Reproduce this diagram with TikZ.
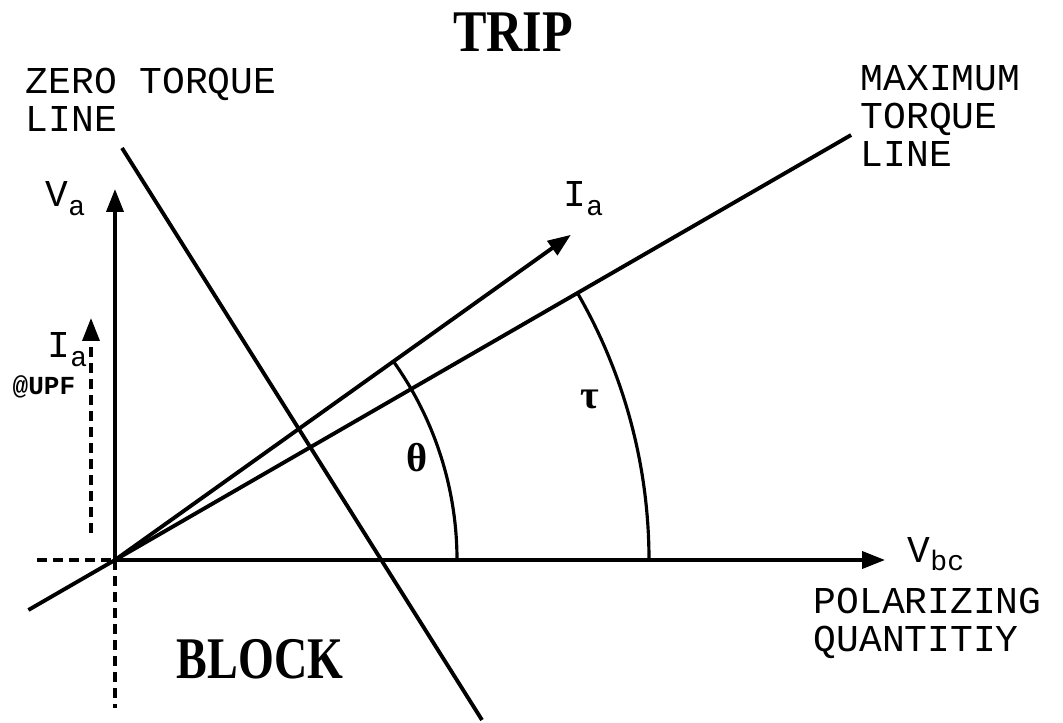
\documentclass[tikz,border=0pt]{standalone}
\usepackage{fontspec}
\setmainfont{Liberation Serif}
\setmonofont{Liberation Mono}
\usepackage{graphicx}
\usetikzlibrary{arrows.meta,positioning}
\newcommand{\psub}[1]{\raisebox{-0.4ex}{\fontsize{8}{8}\selectfont #1}}

\begin{document}
\begin{tikzpicture}[>={Triangle[length=2.3mm,width=1.7mm]}]
\tikzstyle{axis}=[line width=1.1pt]
\tikzstyle{arcln}=[line width=0.9pt]
\tikzstyle{dashln}=[line width=1pt, dash pattern=on 1mm off 0.6mm]
\tikzstyle{lbl}=[font=\ttfamily\fontsize{10.8}{10.8}\selectfont, inner sep=0pt, align=left]
\tikzstyle{small}=[font=\ttfamily\bfseries\fontsize{7.4}{7.4}\selectfont, inner sep=0pt]
\tikzstyle{big}=[font=\bfseries\fontsize{16.8}{16.8}\selectfont, inner sep=0pt]
\tikzstyle{greek}=[font=\bfseries\fontsize{11.5}{11.5}\selectfont, inner sep=0pt]

\useasboundingbox (-1.15,-1.62) rectangle (9.48,5.60);

% axes and phasor end points
\coordinate (O) at (0,0);
\coordinate (vtop) at (0,3.71);
\coordinate (vbot) at (0,-1.48);
\coordinate (hleft) at (-0.78,0);
\coordinate (hright) at (7.70,0);
\coordinate (upfbot) at (-0.24,0.27);
\coordinate (upftop) at (-0.24,2.42);
\coordinate (mtlow) at (210:1.0);
\coordinate (mthigh) at (30:8.5);
\coordinate (iatip) at (35.5:5.6);
\coordinate (ztop) at (0.07,4.12);
\coordinate (zbot) at (3.67,-1.60);

\draw[axis,->] (O) -- (vtop);
\draw[axis,->] (O) -- (hright);
\draw[dashln] (O) -- (vbot);
\draw[dashln] (hleft) -- (O);
\draw[dashln,->] (upfbot) -- (upftop);
\draw[axis] (mtlow) -- (mthigh);
\draw[axis,->] (O) -- (iatip);
\draw[axis] (ztop) -- (zbot);

% angles
\draw[arcln] (3.42,0) arc[start angle=0, end angle=35.5, radius=3.42];
\draw[arcln] (5.34,0) arc[start angle=0, end angle=30, radius=5.34];
\node[greek] (theta) at (3.02,1.02) {θ};
\node[greek] (tau) at (4.75,1.61) {τ};

% labels
\node[big] (trip) at (3.98,5.28) {\scalebox{0.85}[1]{TRIP}};
\node[big] (block) at (1.45,-0.99) {\scalebox{0.78}[1]{BLOCK}};
\node[lbl, anchor=north west] (ztl) at (-0.90,4.93) {ZERO TORQUE\\LINE};
\node[lbl, anchor=north west] (mtl) at (7.45,4.95) {MAXIMUM\\TORQUE\\LINE};
\node[lbl, anchor=north west] (pol) at (6.98,-0.27) {POLARIZING\\QUANTITIY};
\node[lbl, anchor=base west] (vbc) at (7.92,-0.02) {V\psub{bc}};
\node[lbl, anchor=base west] (va) at (-0.70,3.53) {V\psub{a}};
\node[lbl, anchor=base west] (ia) at (4.48,3.53) {I\psub{a}};
\node[lbl, anchor=base west] (iaupf) at (-0.68,2.02) {I\psub{a}};
\node[small, anchor=base west] (upf) at (-1.03,1.65) {@UPF};
\end{tikzpicture}
\end{document}
